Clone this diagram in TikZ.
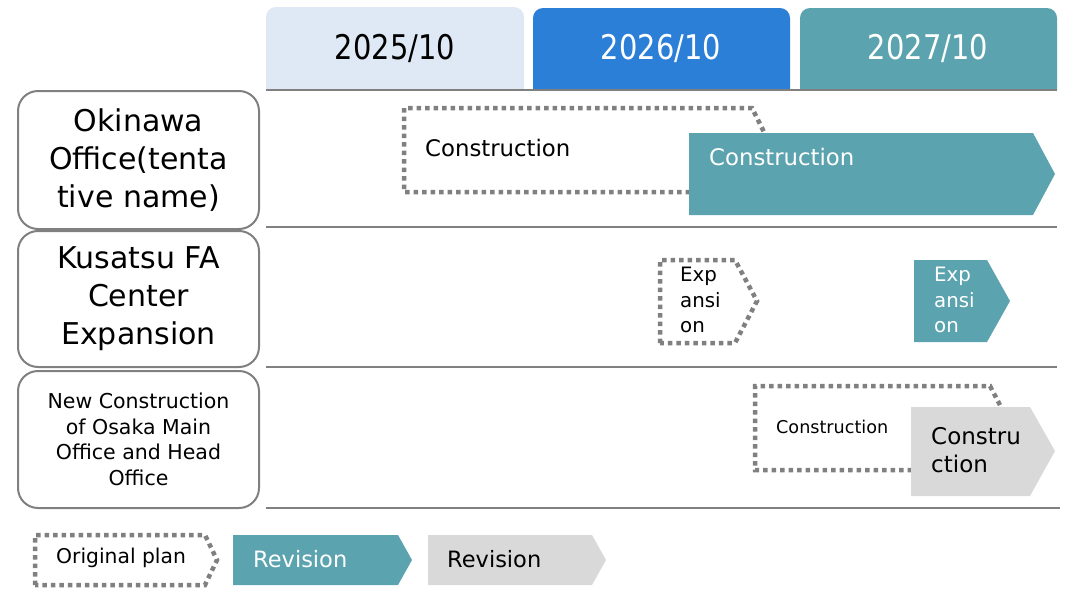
\documentclass[tikz,border=0pt]{standalone}
\usepackage{fontspec}
\setmainfont{DejaVu Sans}
\newfontfamily\hdrfont[FakeStretch=0.85]{DejaVu Sans}
\definecolor{teal1}{HTML}{5BA3AE}
\definecolor{lgray}{HTML}{D9D9D9}
\definecolor{blue1}{HTML}{2B7FD7}
\definecolor{lblue}{HTML}{DFE9F5}
\definecolor{mgray}{HTML}{808080}
\tikzset{
  dotbox/.style={draw=mgray, line width=4.5pt, dash pattern=on 4.5pt off 4pt},
  rowline/.style={draw=mgray, line width=2pt},
  namebox/.style={draw=mgray, line width=2pt, rounded corners=20pt, minimum width=241pt, inner sep=0pt, align=center},
  lbl/.style={inner sep=0pt, anchor=west, align=left},
  hdr/.style={inner sep=0pt, font=\hdrfont\fontsize{34}{40}\selectfont},
}
\begin{document}
\begin{tikzpicture}[x=1pt,y=-1pt]
\useasboundingbox (0,0) rectangle (1074,589);
% header tabs
\fill[lblue] (266,90) {[rounded corners=10pt] -- (266,7) -- (524,7)} -- (524,90) -- cycle;
\fill[blue1] (533,90) {[rounded corners=10pt] -- (533,8) -- (790,8)} -- (790,90) -- cycle;
\fill[teal1] (800,90) {[rounded corners=10pt] -- (800,8) -- (1057,8)} -- (1057,90) -- cycle;
\node[hdr, text=black] (h1) at (395,48) {2025/10};
\node[hdr, text=white] (h2) at (661,48) {2026/10};
\node[hdr, text=white] (h3) at (928,48) {2027/10};
% row lines
\draw[rowline] (266,90) -- (1057,90);
\draw[rowline] (266,227) -- (1057,227);
\draw[rowline] (266,367) -- (1057,367);
\draw[rowline] (266,508) -- (1060,508);
% name boxes
\node[namebox, minimum height=138pt, font=\fontsize{30}{38}\selectfont] (b1) at (138.5,160) {Okinawa\\Office(tenta\\tive name)};
\node[namebox, minimum height=136pt, font=\fontsize{30}{38}\selectfont] (b2) at (138.5,299) {Kusatsu FA\\Center\\Expansion};
\node[namebox, minimum height=137pt, font=\fontsize{20.5}{25.5}\selectfont] (b3) at (138.5,439.5) {New Construction\\of Osaka Main\\Office and Head\\Office};
% row 1
\draw[dotbox] (690,192) -- (404,192) -- (404,108) -- (752,108) -- (773,150) -- (752,192) -- cycle;
\node[lbl, font=\fontsize{22.8}{28}\selectfont] (o1) at (425,148) {Construction};
\fill[teal1] (689,133) -- (1033,133) -- (1055,174) -- (1033,215) -- (689,215) -- cycle;
\node[lbl, text=white, font=\fontsize{22.8}{28}\selectfont] (r1) at (709,157) {Construction};
% row 2
\draw[dotbox] (660,343) -- (660,260) -- (735,260) -- (757,301) -- (735,343) -- cycle;
\node[lbl, font=\fontsize{19.8}{25.5}\selectfont] (o2) at (680,300) {Exp\\ansi\\on};
\fill[teal1] (914,260) -- (987,260) -- (1010,301) -- (987,342) -- (914,342) -- cycle;
\node[lbl, text=white, font=\fontsize{19.8}{25.5}\selectfont] (r2) at (934,300) {Exp\\ansi\\on};
% row 3
\draw[dotbox] (912,470) -- (755,470) -- (755,386) -- (990,386) -- (1012,428) -- (990,470) -- cycle;
\node[lbl, font=\fontsize{17.6}{22}\selectfont] (o3) at (776,427) {Construction};
\fill[lgray] (911,407) -- (1030,407) -- (1055,451) -- (1030,496) -- (911,496) -- cycle;
\node[lbl, font=\fontsize{23}{28}\selectfont] (r3) at (931,450) {Constru\\ction};
% legend
\draw[dotbox] (35,585) -- (35,535) -- (205,535) -- (217,560) -- (205,585) -- cycle;
\node[lbl, font=\fontsize{20.3}{25}\selectfont] (l1) at (56,558) {Original plan};
\fill[teal1] (233,535) -- (398,535) -- (412,560) -- (398,585) -- (233,585) -- cycle;
\node[lbl, text=white, font=\fontsize{22.5}{28}\selectfont] (l2) at (253,559) {Revision};
\fill[lgray] (428,535) -- (592,535) -- (606,560) -- (592,585) -- (428,585) -- cycle;
\node[lbl, font=\fontsize{22.5}{28}\selectfont] (l3) at (447,559) {Revision};
\end{tikzpicture}
\end{document}
